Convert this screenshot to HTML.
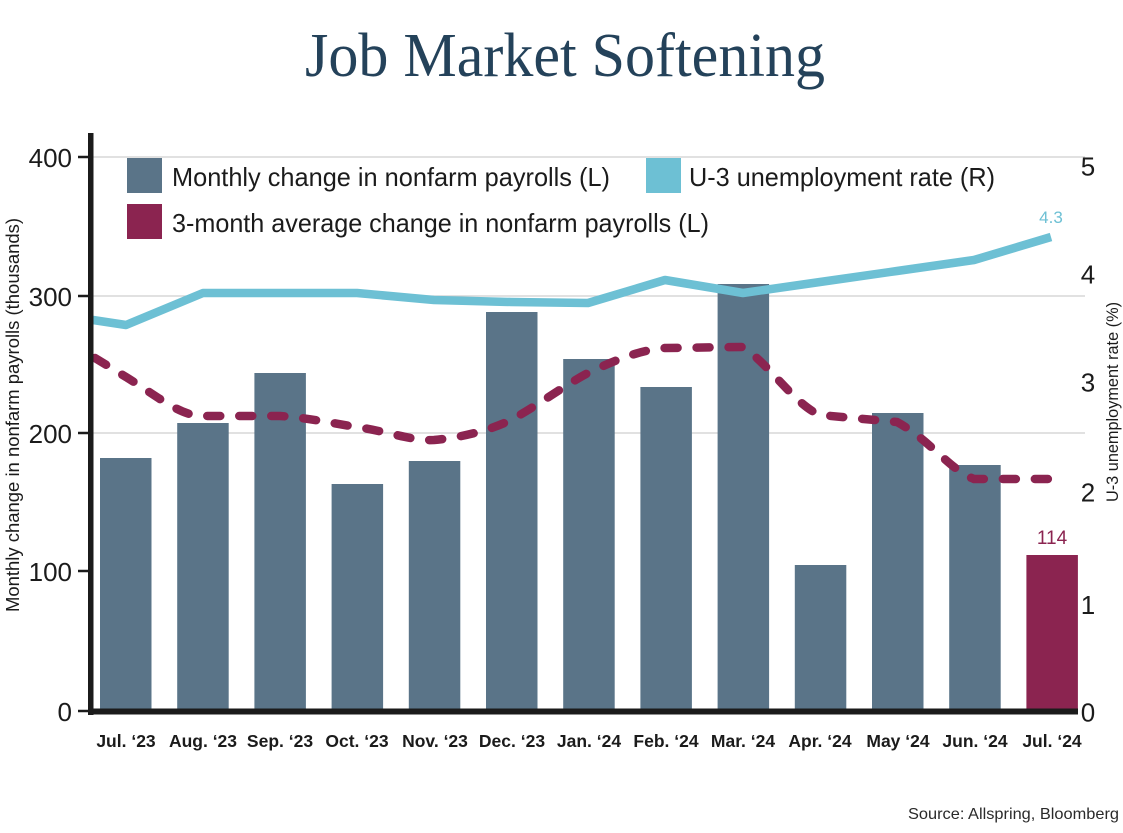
<!DOCTYPE html>
<html>
<head>
<meta charset="utf-8">
<style>
  html,body{margin:0;padding:0;background:#ffffff;}
  svg{display:block;}
  text{font-family:"Liberation Sans", sans-serif;}
</style>
</head>
<body>
<svg width="1123" height="833" viewBox="0 0 1123 833" xmlns="http://www.w3.org/2000/svg">
  <rect width="1123" height="833" fill="#ffffff"/>

  <!-- Title -->
  <text x="305" y="76" font-size="62" fill="#24425a" textLength="520" lengthAdjust="spacingAndGlyphs" style="font-family:'Liberation Serif', serif">Job Market Softening</text>

  <!-- gridlines -->
  <g stroke="#cfcfcf" stroke-width="1.2">
    <line x1="93" y1="157" x2="1085" y2="157"/>
    <line x1="93" y1="296" x2="1085" y2="296"/>
    <line x1="93" y1="433" x2="1085" y2="433"/>
  </g>

  <!-- bars -->
  <g fill="#5a7488">
    <rect x="100" y="458" width="51.5" height="254"/>
    <rect x="177.2" y="423" width="51.5" height="289"/>
    <rect x="254.4" y="373" width="51.5" height="339"/>
    <rect x="331.6" y="484" width="51.5" height="228"/>
    <rect x="408.8" y="461" width="51.5" height="251"/>
    <rect x="486" y="312" width="51.5" height="400"/>
    <rect x="563.2" y="359" width="51.5" height="353"/>
    <rect x="640.4" y="387" width="51.5" height="325"/>
    <rect x="717.6" y="284" width="51.5" height="428"/>
    <rect x="794.8" y="565" width="51.5" height="147"/>
    <rect x="872" y="413" width="51.5" height="299"/>
    <rect x="949.2" y="465" width="51.5" height="247"/>
  </g>
  <rect x="1026.4" y="555" width="51.5" height="157" fill="#8b2450"/>

  <!-- unemployment line -->
  <polyline fill="none" stroke="#6dc0d4" stroke-width="8.5" stroke-linejoin="round"
    points="93,320 126,325 203,293 280,293 357,293 434,300 511,302 588,303 665,280 743,293 820,282 897,271 974,260 1051,237"/>

  <!-- 3-month average dashed -->
  <path fill="none" stroke="#8b2450" stroke-width="8.5" stroke-linecap="round" stroke-linejoin="round" stroke-dasharray="13 19"
    d="M95,358 L126,377 C160,398 180,416 203,416 L280,416 C310,418 330,423 357,427 C390,432 412,441 434,440 C465,437 490,430 511,420 C540,404 565,385 588,373 C615,360 640,350 665,348 L743,347 C770,365 795,405 820,415 L897,422 C930,440 950,470 974,479 L1053,479"/>

  <!-- axes -->
  <rect x="88" y="133" width="5.5" height="582" fill="#1b1b1b"/>
  <rect x="88" y="708.5" width="990" height="6" fill="#1b1b1b"/>
  <g stroke="#1b1b1b" stroke-width="2.5">
    <line x1="78" y1="157" x2="89" y2="157"/>
    <line x1="78" y1="296" x2="89" y2="296"/>
    <line x1="78" y1="433" x2="89" y2="433"/>
    <line x1="78" y1="571" x2="89" y2="571"/>
    <line x1="78" y1="711" x2="89" y2="711"/>
  </g>

  <!-- left tick labels -->
  <g font-size="26" fill="#1b1b1b" text-anchor="end">
    <text x="72" y="167">400</text>
    <text x="72" y="306">300</text>
    <text x="72" y="443">200</text>
    <text x="72" y="581">100</text>
    <text x="72" y="721">0</text>
  </g>

  <!-- right tick labels -->
  <g font-size="26" fill="#1b1b1b" text-anchor="middle">
    <text x="1088" y="175.5">5</text>
    <text x="1088" y="283.5">4</text>
    <text x="1088" y="391.5">3</text>
    <text x="1088" y="501.5">2</text>
    <text x="1088" y="614">1</text>
    <text x="1088" y="721.5">0</text>
  </g>

  <!-- axis titles -->
  <text transform="translate(19,415) rotate(-90)" text-anchor="middle" font-size="18" fill="#1b1b1b" textLength="394" lengthAdjust="spacingAndGlyphs">Monthly change in nonfarm payrolls (thousands)</text>
  <text transform="translate(1118,402) rotate(-90)" text-anchor="middle" font-size="17" fill="#1b1b1b" textLength="200" lengthAdjust="spacingAndGlyphs">U-3 unemployment rate (%)</text>

  <!-- x labels -->
  <g font-size="17.5" font-weight="bold" fill="#1b1b1b" text-anchor="middle">
    <text x="126" y="747">Jul. ‘23</text>
    <text x="203" y="747">Aug. ‘23</text>
    <text x="280" y="747">Sep. ‘23</text>
    <text x="357" y="747">Oct. ‘23</text>
    <text x="435" y="747">Nov. ‘23</text>
    <text x="512" y="747">Dec. ‘23</text>
    <text x="589" y="747">Jan. ‘24</text>
    <text x="666" y="747">Feb. ‘24</text>
    <text x="743" y="747">Mar. ‘24</text>
    <text x="820" y="747">Apr. ‘24</text>
    <text x="898" y="747">May ‘24</text>
    <text x="975" y="747">Jun. ‘24</text>
    <text x="1052" y="747">Jul. ‘24</text>
  </g>

  <!-- legend -->
  <rect x="127" y="158" width="35" height="35" fill="#5a7488"/>
  <text x="172" y="186" font-size="26" fill="#1b1b1b" textLength="438" lengthAdjust="spacingAndGlyphs">Monthly change in nonfarm payrolls (L)</text>
  <rect x="646" y="158" width="35" height="35" fill="#6dc0d4"/>
  <text x="689" y="186" font-size="26" fill="#1b1b1b" textLength="306" lengthAdjust="spacingAndGlyphs">U-3 unemployment rate (R)</text>
  <rect x="127" y="204" width="35" height="35" fill="#8b2450"/>
  <text x="172" y="232" font-size="26" fill="#1b1b1b" textLength="537" lengthAdjust="spacingAndGlyphs">3-month average change in nonfarm payrolls (L)</text>

  <!-- data labels -->
  <text x="1051" y="223" font-size="17" fill="#6dc0d4" text-anchor="middle">4.3</text>
  <text x="1052" y="544" font-size="19" fill="#8b2450" text-anchor="middle">114</text>

  <!-- source -->
  <text x="1119" y="819" font-size="16" fill="#2a2a2a" text-anchor="end" textLength="211" lengthAdjust="spacingAndGlyphs">Source: Allspring, Bloomberg</text>
</svg>
</body>
</html>
